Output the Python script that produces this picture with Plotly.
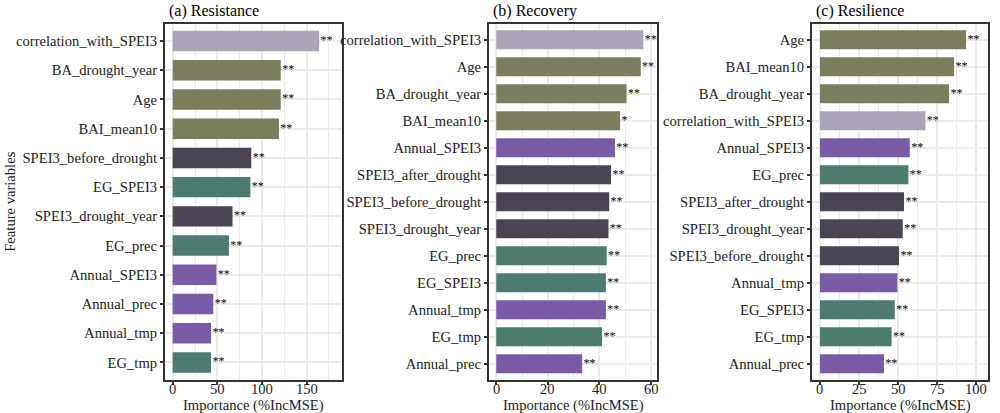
import plotly.graph_objects as go

# panel (a) Resistance
res_vars = ['correlation_with_SPEI3', 'BA_drought_year', 'Age', 'BAI_mean10',
            'SPEI3_before_drought', 'EG_SPEI3', 'SPEI3_drought_year', 'EG_prec',
            'Annual_SPEI3', 'Annual_prec', 'Annual_tmp', 'EG_tmp']
res_vals = [164, 121, 121, 119, 88, 87, 67, 63, 49, 45.5, 43, 43]
res_sig = ['**'] * 12
res_ticks = [0, 50, 100, 150]

# panel (b) Recovery
rec_vars = ['correlation_with_SPEI3', 'Age', 'BA_drought_year', 'BAI_mean10',
            'Annual_SPEI3', 'SPEI3_after_drought', 'SPEI3_before_drought',
            'SPEI3_drought_year', 'EG_prec', 'EG_SPEI3', 'Annual_tmp', 'EG_tmp',
            'Annual_prec']
rec_vals = [57, 56, 50.5, 48, 46, 44.5, 43.8, 43.5, 42.8, 42.5, 42.5, 41, 33.3]
rec_sig = ['**', '**', '**', '*', '**', '**', '**', '**', '**', '**', '**', '**', '**']
rec_ticks = [0, 20, 40, 60]

# panel (c) Resilience
resl_vars = ['Age', 'BAI_mean10', 'BA_drought_year', 'correlation_with_SPEI3',
             'Annual_SPEI3', 'EG_prec', 'SPEI3_after_drought', 'SPEI3_drought_year',
             'SPEI3_before_drought', 'Annual_tmp', 'EG_SPEI3', 'EG_tmp', 'Annual_prec']
resl_vals = [93.4, 85.7, 82.5, 67.4, 57.4, 56.5, 53.7, 52.9, 50.5, 49.5, 47.8, 45.8, 40.9]
resl_sig = ['**'] * 13
resl_ticks = [0, 25, 50, 75, 100]

group_colors = {
    'correlation_with_SPEI3': '#aba3b6',
    'BA_drought_year': '#7b7d5d', 'Age': '#7b7d5d', 'BAI_mean10': '#7b7d5d',
    'SPEI3_before_drought': '#4a4454', 'SPEI3_drought_year': '#4a4454',
    'SPEI3_after_drought': '#4a4454',
    'EG_SPEI3': '#4c7b72', 'EG_prec': '#4c7b72', 'EG_tmp': '#4c7b72',
    'Annual_SPEI3': '#7a5ca6', 'Annual_prec': '#7a5ca6', 'Annual_tmp': '#7a5ca6',
}

panels = [
    ('(a) Resistance', res_vars, res_vals, res_sig, res_ticks, [0.165, 0.342], [-8.6, 189.6], 25),
    ('(b) Recovery', rec_vars, rec_vals, rec_sig, rec_ticks, [0.489, 0.657], [-2.8, 62.3], 10),
    ('(c) Resilience', resl_vars, resl_vals, resl_sig, resl_ticks, [0.812, 0.988], [-5.1, 107.4], 12.5),
]

font_name = 'Liberation Serif'
ydom = [1 - 380 / 413, 1 - 23.5 / 413]

fig = go.Figure()
annotations = []

for i, (title, cats, vals, sig, ticks, xdom, xr, mdt) in enumerate(panels):
    n = i + 1
    xa = 'x' if n == 1 else 'x%d' % n
    ya = 'y' if n == 1 else 'y%d' % n
    fig.add_trace(go.Bar(x=vals, y=cats, orientation='h', width=0.7,
                         marker=dict(color=[group_colors[c] for c in cats],
                                     line=dict(width=0)),
                         xaxis=xa, yaxis=ya, showlegend=False))
    fig.add_trace(go.Scatter(x=[v + (xr[1] - xr[0]) * 0.008 for v in vals], y=cats,
                             mode='text', text=sig, textposition='middle right',
                             textfont=dict(family=font_name, size=12, color='black'),
                             xaxis=xa, yaxis=ya, showlegend=False, cliponaxis=False))
    axis_style = dict(showline=True, mirror=True, linecolor='#333333', linewidth=2,
                      ticks='outside', ticklen=3, tickwidth=1.5, tickcolor='#333333',
                      gridcolor='#ebebeb', gridwidth=1.6, zeroline=False,
                      tickfont=dict(family=font_name, size=14.6, color='#222222'))
    fig.layout['xaxis%d' % n if n > 1 else 'xaxis'] = dict(
        axis_style, domain=xdom, range=xr, anchor=ya,
        tickvals=ticks, showticklabels=False,
        minor=dict(dtick=mdt, tick0=0, showgrid=True, gridcolor='#ebebeb', gridwidth=0.8))
    fig.layout['yaxis%d' % n if n > 1 else 'yaxis'] = dict(
        axis_style, domain=ydom, anchor=xa, type='category',
        categoryorder='array', categoryarray=cats,
        range=[len(cats) - 0.4, -0.6])
    # x tick labels sit tight under the tick marks, as in the original
    for t in ticks:
        annotations.append(dict(text=str(t), x=t, xref=xa, y=1 - 388.5 / 413,
                                yref='paper', yanchor='middle', showarrow=False,
                                font=dict(family=font_name, size=14.6, color='#222222')))
    annotations.append(dict(text=title, x=xdom[0] + 0.002, xanchor='left',
                            y=1 - 11 / 413, yanchor='middle', xref='paper', yref='paper',
                            showarrow=False,
                            font=dict(family=font_name, size=16, color='black')))
    annotations.append(dict(text='Importance (%IncMSE)', x=(xdom[0] + xdom[1]) / 2,
                            xanchor='center', y=1 - 405 / 413, yanchor='middle',
                            xref='paper', yref='paper', showarrow=False,
                            font=dict(family=font_name, size=14.6, color='#222222')))

annotations.append(dict(text='Feature variables', textangle=-90, x=0.0, xanchor='left',
                        y=(ydom[0] + ydom[1]) / 2, yanchor='middle',
                        xref='paper', yref='paper', showarrow=False,
                        font=dict(family=font_name, size=14.6, color='#222222')))

fig.update_layout(
    width=1000, height=413,
    margin=dict(l=0, r=0, t=0, b=0),
    plot_bgcolor='white', paper_bgcolor='white',
    annotations=annotations,
)
# page body keeps the browser's default 8px margin otherwise
fig.write_html('out.html', config={'displayModeBar': False},
               post_script="document.body.style.margin='0';"
                           "document.body.style.overflow='hidden';")
